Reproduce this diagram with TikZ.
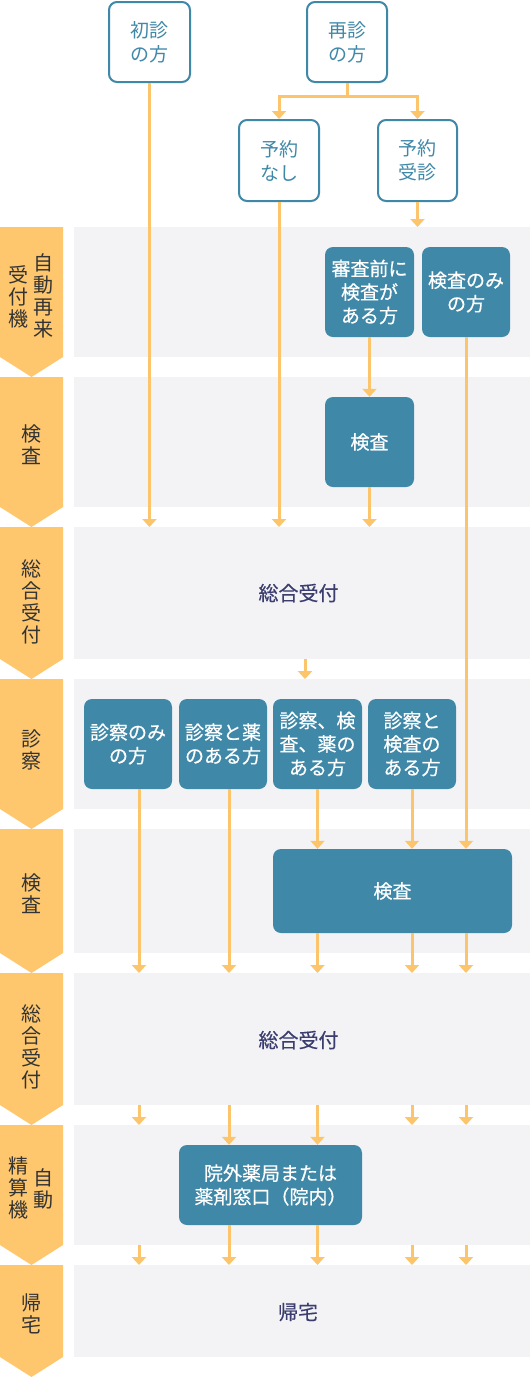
\documentclass[tikz,border=0pt]{standalone}
\usepackage{fontspec}
\setmainfont{Noto Sans CJK JP}
\newfontfamily\boxfont[FakeBold=0.6]{Noto Sans CJK JP}
\newfontfamily\lanefont[FakeBold=0.3]{Noto Sans CJK JP}
\usetikzlibrary{arrows.meta}
\definecolor{boxblue}{HTML}{3F88A8}
\definecolor{arrowc}{HTML}{FDC56B}
\definecolor{chev}{HTML}{FEC76E}
\definecolor{lanebg}{HTML}{F3F3F6}
\definecolor{lanetxt}{HTML}{3B3D6E}
\definecolor{chevtxt}{HTML}{333333}
\tikzset{
  outbox/.style={draw=boxblue, line width=2pt, fill=white, rounded corners=8pt, text=boxblue,
    align=center, font=\fontsize{19}{24}\selectfont, inner sep=0pt},
  bluebox/.style={fill=boxblue, rounded corners=8pt, text=white, align=center,
    font=\boxfont\fontsize{19}{23.5}\selectfont, inner sep=0pt},
  lane/.style={fill=lanebg, inner sep=0pt, anchor=north west, minimum width=456pt},
  lanetext/.style={text=lanetxt, font=\lanefont\fontsize{20}{24}\selectfont, inner sep=0pt},
  chevtext/.style={text=chevtxt, font=\fontsize{20}{22}\selectfont, align=center, inner sep=0pt},
  flow/.style={draw=arrowc, line width=3pt, -{Triangle[width=14pt,length=8pt]}},
}
\newcommand{\chevron}[2]{\fill[chev] (0,#1) -- (63,#1) -- (63,#2) -- (31.5,#2+20) -- (0,#2) -- cycle;}
\begin{document}
\begin{tikzpicture}[x=1pt,y=-1pt]
\useasboundingbox (0,0) rectangle (530,1377);
\fill[white] (0,0) rectangle (530,1377);
% lanes
\node[lane, minimum height=130pt] (L1) at (74,227) {};
\node[lane, minimum height=130pt] (L2) at (74,377) {};
\node[lane, minimum height=132pt] (L3) at (74,527) {};
\node[lane, minimum height=130pt] (L4) at (74,679) {};
\node[lane, minimum height=124pt] (L5) at (74,829) {};
\node[lane, minimum height=132pt] (L6) at (74,973) {};
\node[lane, minimum height=120pt] (L7) at (74,1125) {};
\node[lane, minimum height=92pt] (L8) at (74,1265) {};
% chevrons
\chevron{227}{357}
\chevron{377}{507}
\chevron{527}{659}
\chevron{679}{809}
\chevron{829}{953}
\chevron{973}{1105}
\chevron{1125}{1245}
\chevron{1265}{1357}
% chevron labels
\node[chevtext] (c1a) at (44,296) {自\\動\\再\\来};
\node[chevtext] (c1b) at (19,297) {受\\付\\機};
\node[chevtext] (c2) at (31.5,445) {検\\査};
\node[chevtext] (c3) at (31.5,602) {総\\合\\受\\付};
\node[chevtext] (c4) at (31.5,750) {診\\察};
\node[chevtext] (c5) at (31.5,894) {検\\査};
\node[chevtext] (c6) at (31.5,1047) {総\\合\\受\\付};
\node[chevtext] (c7a) at (44,1189) {自\\動};
\node[chevtext] (c7b) at (19,1188) {精\\算\\機};
\node[chevtext] (c8) at (31.5,1314) {帰\\宅};
% lane texts
\node[lanetext] (t3) at (298.5,593) {総合受付};
\node[lanetext] (t6) at (298.5,1040) {総合受付};
\node[lanetext] (t8) at (298,1312) {帰宅};
% top boxes
\node[outbox, minimum width=81pt, minimum height=80pt] (shoshin) at (149.5,42) {初診\\の方};
\node[outbox, minimum width=80pt, minimum height=80pt] (saishin) at (347,42) {再診\\の方};
\node[outbox, minimum width=80pt, minimum height=81pt] (nashi) at (279,160.5) {予約\\なし};
\node[outbox, minimum width=79pt, minimum height=81pt] (jushin) at (417.5,160.5) {予約\\受診};
% blue boxes
\node[bluebox, minimum width=89pt, minimum height=90pt] (shinsamae) at (369.5,292) {審査前に\\検査が\\ある方};
\node[bluebox, minimum width=88pt, minimum height=90pt] (kensanomi) at (466,292) {検査のみ\\の方};
\node[bluebox, minimum width=89pt, minimum height=90pt] (kensaA) at (369.5,442) {検査};
\node[bluebox, minimum width=88pt, minimum height=90pt] (s1) at (128,744) {診察のみ\\の方};
\node[bluebox, minimum width=88pt, minimum height=90pt] (s2) at (223,744) {診察と薬\\のある方};
\node[bluebox, minimum width=89pt, minimum height=90pt] (s3) at (317.5,744) {診察、検\\査、薬の\\ある方};
\node[bluebox, minimum width=88pt, minimum height=90pt] (s4) at (412,744) {診察と\\検査の\\ある方};
\node[bluebox, minimum width=239pt, minimum height=84pt] (kensaB) at (392.5,891) {検査};
\node[bluebox, minimum width=183pt, minimum height=80pt] (yakkyoku) at (270.5,1185) {院外薬局または\\薬剤窓口（院内）};
% column coordinates
\coordinate (cA) at (139,0);
\coordinate (cB) at (229,0);
\coordinate (cM) at (305,0);
% connectors
\draw[flow] (saishin.south) -- ++(0,13) -| (nashi.north);
\draw[flow] (saishin.south) -- ++(0,13) -| (jushin.north);
\draw[flow] (shoshin.south) -- (shoshin.south |- L3.north);
\draw[flow] (nashi.south) -- (nashi.south |- L3.north);
\draw[flow] (jushin.south) -- (jushin.south |- L1.north);
\draw[flow] (shinsamae.south) -- (kensaA.north);
\draw[flow] (kensaA.south) -- (kensaA.south |- L3.north);
\draw[flow] (kensanomi.south) -- (kensanomi.south |- kensaB.north);
\draw[flow] (cM |- L3.south) -- (cM |- L4.north);
\draw[flow] (s1.south -| cA) -- (cA |- L6.north);
\draw[flow] (s2.south -| cB) -- (cB |- L6.north);
\draw[flow] (s3.south) -- (s3.south |- kensaB.north);
\draw[flow] (s4.south) -- (s4.south |- kensaB.north);
\draw[flow] (kensaB.south -| s3) -- (s3 |- L6.north);
\draw[flow] (kensaB.south -| s4) -- (s4 |- L6.north);
\draw[flow] (kensaB.south -| kensanomi) -- (kensanomi |- L6.north);
\draw[flow] (cA |- L6.south) -- (cA |- L7.north);
\draw[flow] (cB |- L6.south) -- (cB |- yakkyoku.north);
\draw[flow] (s3 |- L6.south) -- (s3 |- yakkyoku.north);
\draw[flow] (s4 |- L6.south) -- (s4 |- L7.north);
\draw[flow] (kensanomi |- L6.south) -- (kensanomi |- L7.north);
\draw[flow] (cA |- L7.south) -- (cA |- L8.north);
\draw[flow] (yakkyoku.south -| cB) -- (cB |- L8.north);
\draw[flow] (yakkyoku.south -| s3) -- (s3 |- L8.north);
\draw[flow] (s4 |- L7.south) -- (s4 |- L8.north);
\draw[flow] (kensanomi |- L7.south) -- (kensanomi |- L8.north);
\end{tikzpicture}
\end{document}
